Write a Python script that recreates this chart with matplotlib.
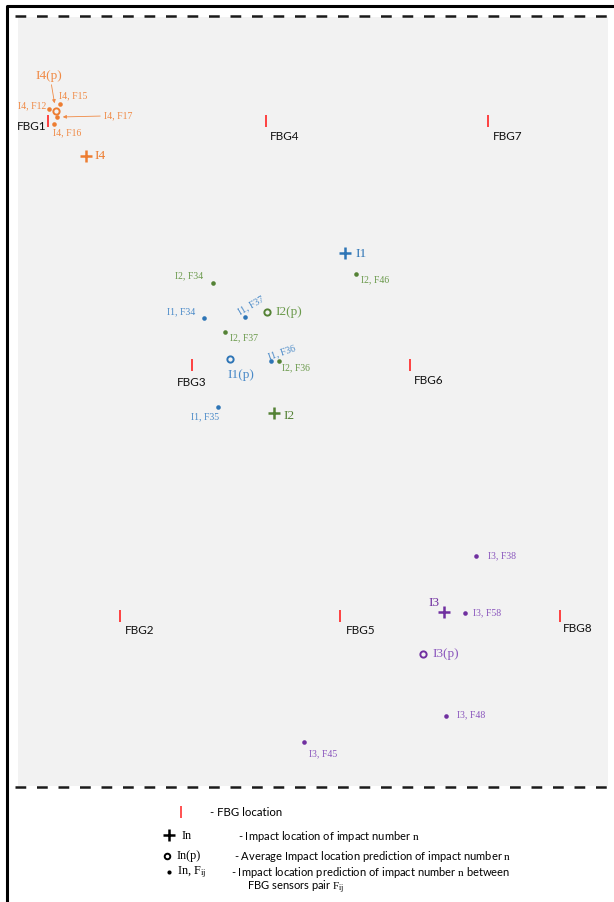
import matplotlib.pyplot as plt
from matplotlib.patches import Rectangle

plt.rcParams['mathtext.fontset'] = 'custom'
plt.rcParams['mathtext.rm'] = 'Liberation Serif'
plt.rcParams['mathtext.it'] = 'Liberation Serif:italic'

SANS = 'Lato'
SERIF = 'Liberation Serif'

# sensor positions on the plate (pixel units of the drawing)
fbg_names = ['FBG1', 'FBG2', 'FBG3', 'FBG4', 'FBG5', 'FBG6', 'FBG7', 'FBG8']
fbg_x = [48, 120, 192, 266, 340, 410, 488, 560]
fbg_y = [121, 616, 365, 121, 616, 365, 121, 616]

# actual impact locations
impact_names = ['I1', 'I2', 'I3', 'I4']
impact_x = [345, 274, 444, 86]
impact_y = [253, 413, 612, 156]

# average predicted location per impact
avg_x = [230, 267, 423, 56]
avg_y = [359, 312, 654, 111]

# predictions for each sensor pair
pairs_I1 = ['F34', 'F37', 'F36', 'F35']
pred_x_I1 = [204, 245, 271, 218]
pred_y_I1 = [318, 317, 361, 407]

pairs_I2 = ['F34', 'F37', 'F36', 'F46']
pred_x_I2 = [213, 225, 279, 356]
pred_y_I2 = [283, 332, 361, 274]

pairs_I3 = ['F38', 'F58', 'F48', 'F45']
pred_x_I3 = [476, 465, 446, 304]
pred_y_I3 = [556, 613, 716, 742]

pairs_I4 = ['F12', 'F15', 'F16', 'F17']
pred_x_I4 = [49, 60, 54, 57]
pred_y_I4 = [109, 104, 124, 117]

mark_col = {'I1': '#2E75B6', 'I2': '#548235', 'I3': '#7030A0', 'I4': '#ED7D31'}
text_col = {'I1': '#4A8AC8', 'I2': '#6B9A4C', 'I3': '#8A55BD', 'I4': '#F08A45'}

fig = plt.figure(figsize=(6.14, 9.02), dpi=100)
ax = fig.add_axes([0, 0, 1, 1])
ax.set_xlim(0, 614)
ax.set_ylim(902, 0)
ax.axis('off')

# outer frame and plate area
ax.plot([7, 7, 614], [902, 6, 6], color='black', lw=2.2, solid_capstyle='butt')
ax.add_patch(Rectangle((18, 17), 590, 769, facecolor='#F2F2F2', edgecolor='none'))
for yy in [16, 787]:
    ax.plot([15, 612], [yy, yy], color='#1a1a1a', lw=1.8, dashes=(4.3, 4.3))

# FBG sensors
fbg_offsets = [(-2, 6, 'right'), (5, 14, 'left'), (0, 17, 'center'), (4, 16, 'left'),
               (6, 14, 'left'), (4, 16, 'left'), (5, 15, 'left'), (3, 13, 'left')]
ax.plot(fbg_x, fbg_y, ls='none', marker='|', ms=9, mew=1.3, color='#FF3333')
for name, x, y, (dx, dy, ha) in zip(fbg_names, fbg_x, fbg_y, fbg_offsets):
    ax.text(x + dx, y + dy, name, fontsize=8.5, family=SANS, ha=ha, va='center',
            color='#111111')

# actual impacts (+) and average predictions (o)
impact_offsets = [(10, 1, 'left'), (9, 3, 'left'), (-16, -9, 'left'), (8, 0, 'left')]
avg_offsets = [(-3, 16, 'left'), (8, 0, 'left'), (9, 0, 'left'), (-7, -35, 'center')]
for i, name in enumerate(impact_names):
    c = mark_col[name]
    ax.plot(impact_x[i], impact_y[i], marker='+', ms=9, mew=1.8, color=c)
    dx, dy, ha = impact_offsets[i]
    ax.text(impact_x[i] + dx, impact_y[i] + dy, name, fontsize=9.5, family=SERIF,
            ha=ha, va='center', color=c)
    ax.plot(avg_x[i], avg_y[i], marker='o', ms=4.5, mew=1.4, mfc='none', color=c)
    dx, dy, ha = avg_offsets[i]
    ax.text(avg_x[i] + dx, avg_y[i] + dy, name + '(p)', fontsize=9.5, family=SERIF,
            ha=ha, va='center', color=text_col[name])

# arrow from the I4(p) label to its circle
ax.annotate('', xy=(avg_x[3] - 1, avg_y[3] - 5), xytext=(avg_x[3] - 5, avg_y[3] - 29),
            arrowprops=dict(arrowstyle='-|>', color=text_col['I4'], lw=0.6,
                            mutation_scale=5))

# pair predictions with label offsets (dx, dy, ha, rotation)
groups = [
    ('I1', pairs_I1, pred_x_I1, pred_y_I1,
     [(-9, -6, 'right', 0), (6.5, -12, 'center', 30), (10.5, -9, 'center', 19),
      (-12.5, 10, 'center', 0)]),
    ('I2', pairs_I2, pred_x_I2, pred_y_I2,
     [(-10, -7, 'right', 0), (5, 6, 'left', 0), (3, 7, 'left', 0), (5, 6, 'left', 0)]),
    ('I3', pairs_I3, pred_x_I3, pred_y_I3,
     [(12, 0, 'left', 0), (8, 0, 'left', 0), (11, -1, 'left', 0), (5, 12, 'left', 0)]),
    ('I4', pairs_I4, pred_x_I4, pred_y_I4,
     [(-3, -3, 'right', 0), (-1, -8, 'left', 0), (-1, 9, 'left', 0), (47, -1, 'left', 0)]),
]
for name, pairs, px, py, offs in groups:
    ax.plot(px, py, ls='none', marker='o', ms=3.3, mew=0, color=mark_col[name])
    for p, x, y, (dx, dy, ha, rot) in zip(pairs, px, py, offs):
        ax.text(x + dx, y + dy, name + ', ' + p, fontsize=7, family=SERIF, ha=ha,
                va='center', rotation=rot, rotation_mode='anchor',
                color=text_col[name])

# arrow from the I4, F17 label to its point
ax.annotate('', xy=(pred_x_I4[3] + 3, pred_y_I4[3]), xytext=(pred_x_I4[3] + 46, pred_y_I4[3] - 1),
            arrowprops=dict(arrowstyle='-|>', color=text_col['I4'], lw=0.6,
                            mutation_scale=5))

# key below the plate
ax.plot(181, 812, marker='|', ms=8, mew=1.2, color='#FF3333')
ax.text(210, 812, '- FBG location', fontsize=8.2, family=SANS, va='center')

ax.plot(169, 835, marker='+', ms=9, mew=1.8, color='black')
ax.text(182, 836, 'In', fontsize=8.8, family=SERIF, va='center')
ax.text(238, 836, '- Impact location of impact number $\\mathrm{n}$', fontsize=8,
        family=SANS, va='center')

ax.plot(167, 856, marker='o', ms=4, mew=1.4, mfc='none', color='black')
ax.text(177, 856, 'In(p)', fontsize=8.8, family=SERIF, va='center')
ax.text(234, 856, '- Average Impact location prediction of impact number $\\mathrm{n}$',
        fontsize=8, family=SANS, va='center')

ax.plot(169, 872, marker='o', ms=3, mew=0, color='black')
ax.text(177, 872, 'In, $\\mathrm{F_{ij}}$', fontsize=8.8, family=SERIF, va='center')
ax.text(231, 872, '- Impact location prediction of impact number $\\mathrm{n}$ between',
        fontsize=8, family=SANS, va='center')
ax.text(247, 887, 'FBG sensors pair $\\mathrm{F_{ij}}$', fontsize=8, family=SANS,
        va='center')

fig.savefig('out.png', dpi=100, facecolor='white')
